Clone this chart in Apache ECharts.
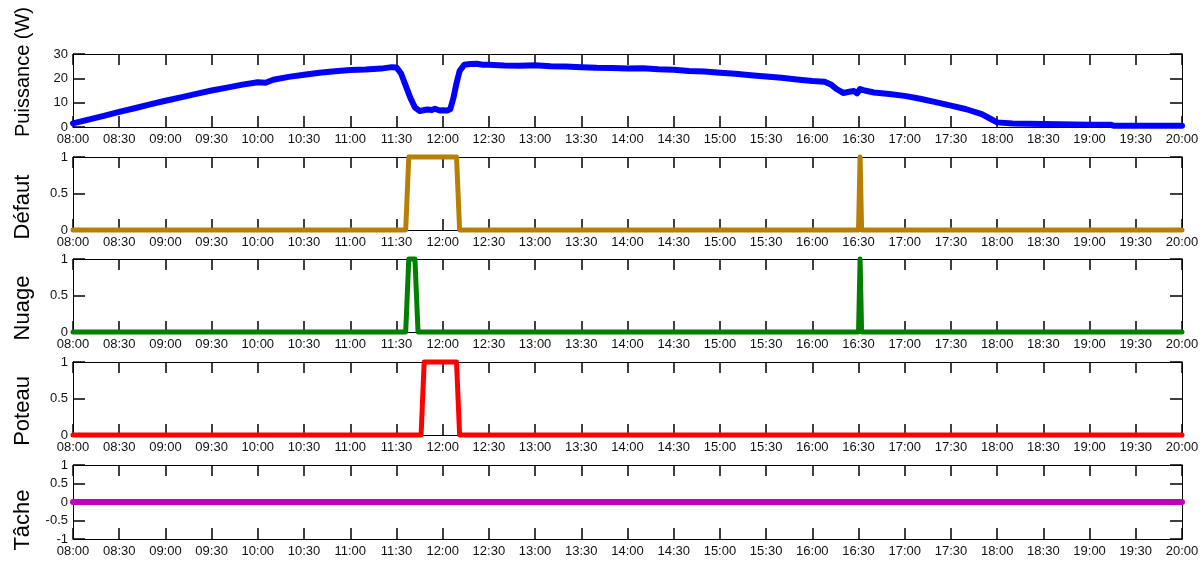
<!DOCTYPE html>
<html>
<head>
<meta charset="utf-8">
<script src="https://cdn.jsdelivr.net/npm/echarts@6/dist/echarts.min.js"></script>
<style>
html,body{margin:0;padding:0;background:#fff;}
#chart{width:1203px;height:561px;}
</style>
</head>
<body>
<div id="chart"></div>
<script>
// ---- Data ----
const tickLabels = ['08:00','08:30','09:00','09:30','10:00','10:30','11:00','11:30','12:00','12:30','13:00','13:30','14:00','14:30','15:00','15:30','16:00','16:30','17:00','17:30','18:00','18:30','19:00','19:30','20:00'];

const panelNames = ['Puissance (W)', 'Défaut', 'Nuage', 'Poteau', 'Tâche'];

const powerTimes = ['08:00','08:10','08:20','08:30','08:40','08:50','09:00','09:10','09:20','09:30','09:40','09:50','10:00','10:05','10:10','10:20','10:30','10:40','10:50','11:00','11:10','11:20','11:27','11:30','11:33','11:36','11:39','11:42','11:45','11:50','11:53','11:55','11:58','12:00','12:03','12:05','12:07','12:09','12:11','12:14','12:18','12:22','12:26','12:30','12:40','12:50','13:00','13:10','13:20','13:30','13:40','13:50','14:00','14:10','14:20','14:30','14:40','14:50','15:00','15:10','15:20','15:30','15:40','15:50','16:00','16:08','16:12','16:16','16:20','16:24','16:27','16:29','16:31','16:34','16:40','16:50','17:00','17:10','17:20','17:30','17:40','17:50','17:55','18:00','18:10','18:30','18:50','19:00','19:14','19:16','20:00'];
const powerValues = [1.5,3.0,4.6,6.2,7.7,9.3,10.8,12.2,13.6,15.0,16.2,17.4,18.4,18.2,19.4,20.6,21.5,22.3,22.9,23.4,23.6,24.0,24.6,24.5,22.0,17.0,12.0,8.0,6.6,7.2,7.0,7.5,6.8,6.9,6.8,7.4,12.0,18.0,23.0,25.6,25.9,26.0,25.6,25.6,25.3,25.2,25.4,25.0,24.9,24.6,24.3,24.2,24.0,24.1,23.7,23.5,23.0,22.8,22.3,21.9,21.3,20.8,20.2,19.5,18.9,18.6,17.5,15.5,14.0,14.5,14.8,13.8,15.6,15.0,14.2,13.6,12.8,11.6,10.2,8.8,7.3,5.3,3.6,1.9,1.4,1.2,1.0,0.9,0.9,0.5,0.5];

const defautTimes  = ['08:00','11:36','11:38','12:09','12:11','16:30','16:31','16:32','20:00'];
const defautValues = [0,0,1,1,0,0,1,0,0];

const nuageTimes  = ['08:00','11:36','11:38','11:42','11:44','16:30','16:31','16:32','20:00'];
const nuageValues = [0,0,1,1,0,0,1,0,0];

const poteauTimes  = ['08:00','11:46','11:48','12:09','12:11','20:00'];
const poteauValues = [0,0,1,1,0,0];

const tacheTimes  = ['08:00','20:00'];
const tacheValues = [0,0];

// ---- Build ----
function toMin(s){ const p = s.split(':'); return (+p[0])*60 + (+p[1]); }
function pairs(t, v){ return t.map((s,i)=>[toMin(s), v[i]]); }

const seriesDefs = [
  {times: powerTimes, values: powerValues, color: '#0000ff', width: 6, ymin: 0, ymax: 30, yint: 10},
  {times: defautTimes, values: defautValues, color: '#b77f04', width: 5, ymin: 0, ymax: 1, yint: 0.5},
  {times: nuageTimes, values: nuageValues, color: '#007f00', width: 5, ymin: 0, ymax: 1, yint: 0.5},
  {times: poteauTimes, values: poteauValues, color: '#ff0000', width: 5, ymin: 0, ymax: 1, yint: 0.5},
  {times: tacheTimes, values: tacheValues, color: '#bf00bf', width: 6, ymin: -1, ymax: 1, yint: 0.5}
];

const layout = [
  {top: 54, height: 73, labelY: 72, labelSize: 20},
  {top: 157, height: 73, labelY: 207, labelSize: 22},
  {top: 259, height: 73, labelY: 308, labelSize: 22},
  {top: 362, height: 73, labelY: 411, labelSize: 22},
  {top: 465, height: 74, labelY: 520, labelSize: 22}
];

const fontFam = '"Liberation Sans", Arial, sans-serif';
const grid = [], xAxis = [], yAxis = [], series = [], graphic = [];

function tickCfg(len){
  return {show: true, inside: true, length: len, lineStyle: {color: '#000', width: 1.5}};
}

seriesDefs.forEach((d, i) => {
  const L = layout[i];
  grid.push({left: 73, right: 21, top: L.top, height: L.height, containLabel: false});
  ['bottom','top'].forEach(pos => {
    xAxis.push({
      type: 'value', gridIndex: i, min: 480, max: 1200, interval: 30, position: pos,
      axisLine: {show: true, onZero: false, lineStyle: {color: '#000', width: 1}},
      axisTick: tickCfg(11),
      splitLine: {show: false},
      axisLabel: {show: pos === 'bottom', margin: 6, color: '#111', fontSize: 13, fontFamily: fontFam,
        formatter: v => tickLabels[Math.round((v - 480) / 30)] || ''}
    });
  });
  ['left','right'].forEach(pos => {
    yAxis.push({
      type: 'value', gridIndex: i, min: d.ymin, max: d.ymax, interval: d.yint, position: pos,
      axisLine: {show: true, onZero: false, lineStyle: {color: '#000', width: 1}},
      axisTick: tickCfg(12),
      splitLine: {show: false},
      axisLabel: {show: pos === 'left', margin: 5, color: '#111', fontSize: 13, fontFamily: fontFam}
    });
  });
  series.push({
    type: 'line', xAxisIndex: 2*i, yAxisIndex: 2*i,
    data: pairs(d.times, d.values),
    showSymbol: false, symbol: 'none', clip: false,
    lineStyle: {color: d.color, width: d.width, join: 'round', cap: 'round'},
    itemStyle: {color: d.color},
    animation: false, z: 3
  });
  graphic.push({
    type: 'text', x: 23, y: L.labelY, rotation: Math.PI/2,
    style: {text: panelNames[i], font: L.labelSize + 'px ' + fontFam, fill: '#000',
      textAlign: 'center', textVerticalAlign: 'middle'}
  });
});

const chart = echarts.init(document.getElementById('chart'), null, {renderer: 'canvas'});
chart.setOption({
  animation: false,
  backgroundColor: '#fff',
  grid, xAxis, yAxis, series, graphic
});
</script>
</body>
</html>
